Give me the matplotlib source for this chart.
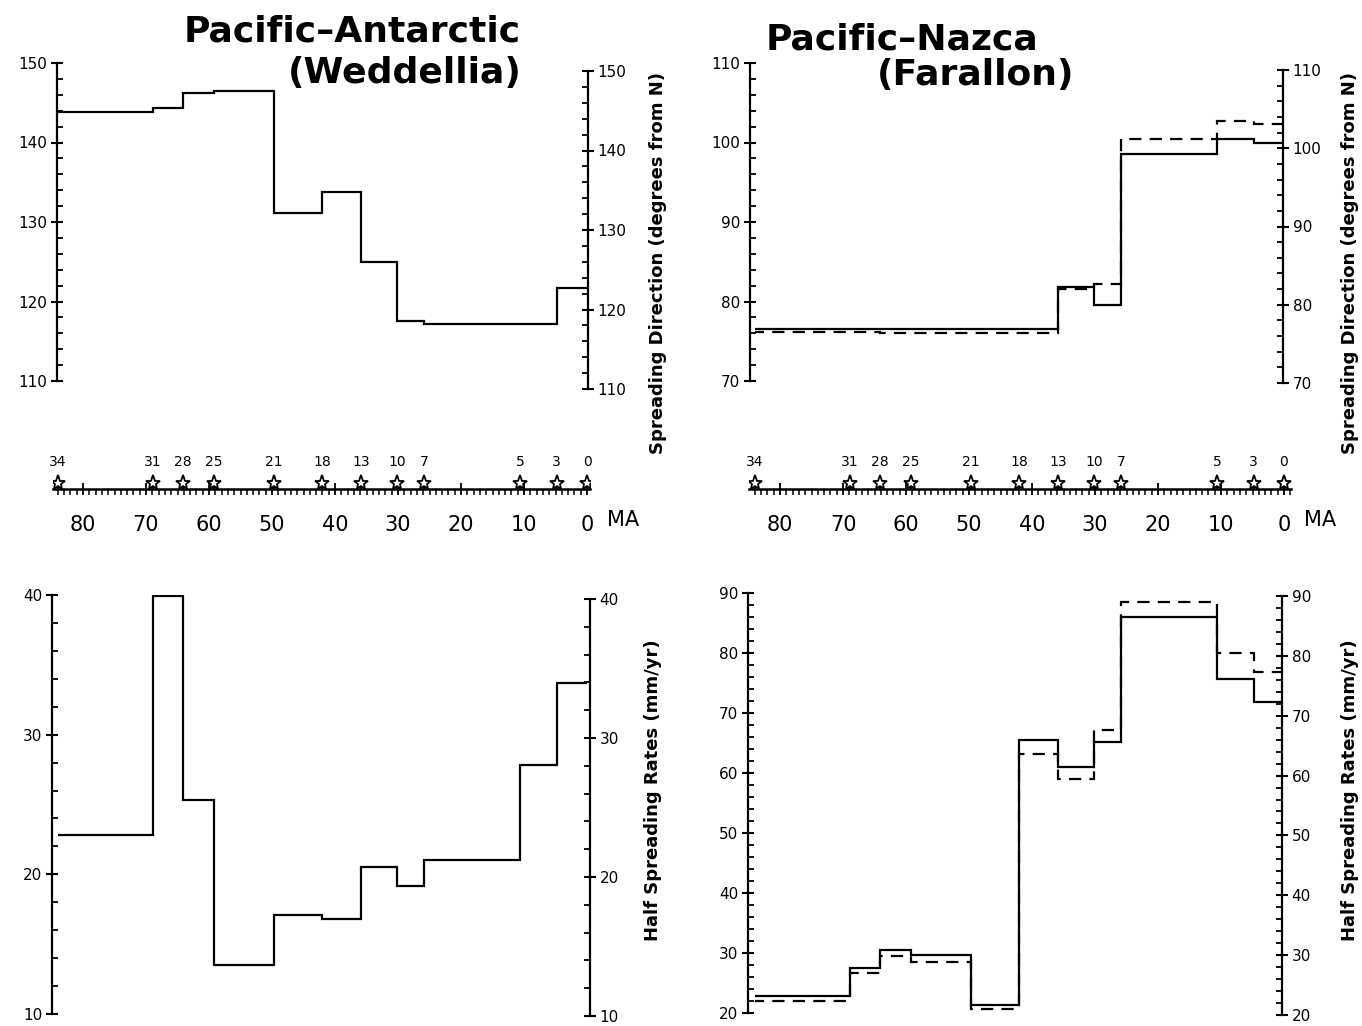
import matplotlib
matplotlib.use('Agg')
import matplotlib.pyplot as plt
from matplotlib.ticker import MultipleLocator

W, H = 1362, 1026
PX_PER_MA = 6.3

# magnetic chrons and their ages (Ma), old -> young
chron_names = ['34', '31', '28', '25', '21', '18', '13', '10', '7', '5', '3', '0']
chron_ages = [84.0, 68.9, 64.2, 59.2, 49.7, 42.0, 35.8, 30.1, 25.9, 10.6, 4.8, 0.0]

# values per interval between consecutive chrons (old -> young)
pa_direction = [143.8, 144.3, 146.2, 146.5, 131.1, 133.8, 125.0, 117.6, 117.2, 117.2, 121.7]
pa_rate = [22.8, 39.9, 25.3, 13.5, 17.1, 16.8, 20.5, 19.2, 21.0, 27.8, 33.7]

pn_direction = [76.5, 76.5, 76.5, 76.5, 76.5, 76.6, 81.8, 79.5, 98.5, 100.4, 99.9]
pn_direction_alt = [76.2, 76.2, 76.0, 76.0, 76.0, 76.0, 81.6, 82.2, 100.4, 102.7, 102.3]
pn_rate = [22.9, 27.5, 30.5, 29.7, 21.3, 65.5, 61.0, 65.2, 86.0, 75.6, 71.9]
pn_rate_alt = [22.0, 26.6, 29.5, 28.5, 20.7, 63.2, 59.0, 67.1, 88.5, 80.0, 76.8]

fig = plt.figure(figsize=(W / 100, H / 100), dpi=100)


def px_axes(x0, y0, x1, y1):
    return fig.add_axes([x0 / W, 1 - y1 / H, (x1 - x0) / W, (y1 - y0) / H])


def age_lim(x0, x1, zero_x):
    return ((zero_x - x0) / PX_PER_MA, (zero_x - x1) / PX_PER_MA)


def style_y(ax, side):
    ax.yaxis.set_major_locator(MultipleLocator(10))
    ax.yaxis.set_minor_locator(MultipleLocator(2))
    ax.tick_params(axis='y', which='major', direction='inout', length=8,
                   width=1.5, labelsize=11, pad=3)
    ax.tick_params(axis='y', which='minor', direction='in', length=4.5, width=1.3)
    for s in ['top', 'bottom', 'left', 'right']:
        ax.spines[s].set_visible(s == side)
    ax.spines[side].set_linewidth(1.6)
    ax.set_xticks([])
    ax.patch.set_alpha(0)


def panel(box, right_box, ylim, zero_x, series):
    x0, y0, x1, y1 = box
    ax = px_axes(x0, y0, x1, y1)
    ax.set_xlim(*age_lim(x0, x1, zero_x))
    ax.set_ylim(*ylim)
    style_y(ax, 'left')
    edges = chron_ages[::-1]
    for vals, dashed in series:
        ls = (0, (5.5, 3.7)) if dashed else '-'
        ax.stairs(vals[::-1], edges, baseline=None, color='black',
                  linewidth=1.6, linestyle=ls)

    ry0, ry1 = right_box
    axr = px_axes(x0, ry0, x1, ry1)
    axr.set_xlim(*age_lim(x0, x1, zero_x))
    axr.set_ylim(*ylim)
    style_y(axr, 'right')
    axr.yaxis.tick_right()
    return ax, axr


def timescale(x0, x1, zero_x, line_y):
    # 1 data unit = 1 pixel vertically
    ax = px_axes(x0, line_y - 40, x1, line_y + 8)
    ax.set_xlim(*age_lim(x0, x1, zero_x))
    ax.set_ylim(-8, 40)
    ax.patch.set_alpha(0)
    for s in ['top', 'left', 'right']:
        ax.spines[s].set_visible(False)
    ax.spines['bottom'].set_position(('data', 0))
    ax.spines['bottom'].set_linewidth(1.8)
    ax.set_yticks([])
    ax.xaxis.set_major_locator(MultipleLocator(10))
    ax.xaxis.set_minor_locator(MultipleLocator(1))
    ax.tick_params(axis='x', which='major', direction='inout', length=8,
                   width=1.3, labelsize=15, pad=15)
    ax.tick_params(axis='x', which='minor', direction='out', length=4, width=1.1)
    ax.vlines(chron_ages, 0, 13, color='black', linewidth=1.5)
    ax.plot(chron_ages, [6] * len(chron_ages), linestyle='none', marker='*',
            markersize=11, markerfacecolor='white', markeredgecolor='black',
            markeredgewidth=1.3)
    for name, age in zip(chron_names, chron_ages):
        ax.text(age, 27, name, ha='center', va='center', fontsize=10)
    ax.annotate('MA', xy=(0, 0), xycoords='data', xytext=(26, -22),
                textcoords='offset points', ha='center', va='center',
                fontsize=15)
    return ax


LEFT_ZERO = 587
RIGHT_ZERO = 1284

panel((57, 63, 588, 381), (71, 389), (110, 150), LEFT_ZERO,
      [(pa_direction, False)])
panel((52, 595, 590, 1014), (599, 1016), (10, 40), LEFT_ZERO,
      [(pa_rate, False)])
panel((750, 63, 1283, 381), (70, 383), (70, 110), RIGHT_ZERO,
      [(pn_direction, False), (pn_direction_alt, True)])
panel((748, 593, 1282, 1013), (596, 1015), (20, 90), RIGHT_ZERO,
      [(pn_rate, False), (pn_rate_alt, True)])

timescale(53, 590, LEFT_ZERO, 489)
timescale(749, 1291, RIGHT_ZERO, 489)

title_kw = dict(fontsize=26, fontweight='bold', family='DejaVu Sans')
fig.text(521 / W, 1 - 42 / H, 'Pacific–Antarctic', ha='right', va='baseline', **title_kw)
fig.text(522 / W, 1 - 83 / H, '(Weddellia)', ha='right', va='baseline', **title_kw)
fig.text(766 / W, 1 - 50 / H, 'Pacific–Nazca', ha='left', va='baseline', **title_kw)
fig.text(976 / W, 1 - 85 / H, '(Farallon)', ha='center', va='baseline', **title_kw)

label_kw = dict(rotation=90, ha='center', va='center', fontsize=13, fontweight='bold')
fig.text(658 / W, 1 - 263 / H, 'Spreading Direction (degrees from N)', **label_kw)
fig.text(1350 / W, 1 - 263 / H, 'Spreading Direction (degrees from N)', **label_kw)
fig.text(653 / W, 1 - 790 / H, 'Half Spreading Rates (mm/yr)', **label_kw)
fig.text(1350 / W, 1 - 790 / H, 'Half Spreading Rates (mm/yr)', **label_kw)

fig.savefig('out.png', dpi=100)
